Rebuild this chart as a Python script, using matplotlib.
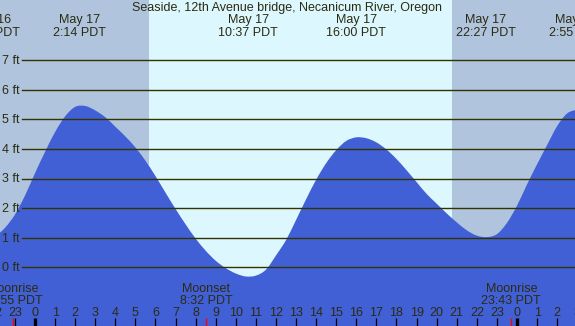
import numpy as np
import matplotlib
matplotlib.use("Agg")
import matplotlib.pyplot as plt
from matplotlib.path import Path
from matplotlib.patches import PathPatch

plt.rcParams["font.family"] = ["Liberation Sans", "DejaVu Sans"]

title = "Seaside, 12th Avenue bridge, Necanicum River, Oregon"

# tide height (ft) every half hour, hours relative to May 17 00:00
hours = np.arange(-2, 27.5, 0.5)
heights = [
    1.03, 1.33, 1.78, 2.42,
    3.18, 3.90, 4.57, 5.10, 5.42, 5.45, 5.30, 5.07, 4.75, 4.42,
    4.05, 3.60, 3.08, 2.52, 1.97, 1.45, 0.97, 0.56, 0.22, -0.03,
    -0.21, -0.31, -0.28, -0.08, 0.40, 0.92, 1.60, 2.30, 2.96, 3.52,
    3.96, 4.27, 4.39, 4.36, 4.22, 3.98, 3.66, 3.28, 2.88, 2.48,
    2.15, 1.82, 1.52, 1.25, 1.07, 1.02, 1.12, 1.50, 2.08, 2.80,
    3.48, 4.13, 4.77, 5.20, 5.33,
]

# high / low tide labels
tide_days = ["May 16", "May 17", "May 17", "May 17", "May 17", "May 18"]
tide_times = ["21:46", "2:14", "10:37", "16:00", "22:27", "2:55"]
tide_offsets = [-24, 0, 0, 0, 0, 24]

# moon events
moon_names = ["Moonrise", "Moonset", "Moonrise"]
moon_times = ["22:55", "8:32", "23:43"]
moon_offsets = [-24, 0, 0]

sunrise = "5:41"
sunset = "20:46"

ft_levels = [0, 1, 2, 3, 4, 5, 6, 7]
hour_ticks = list(range(-2, 28))


def to_hours(t, offset=0):
    hh, mm = t.split(":")
    return int(hh) + int(mm) / 60 + offset


def smooth_area(xs, ys, base):
    # catmull-rom through the points, drawn as bezier segments
    pts = np.column_stack([xs, ys])
    ext = np.vstack([pts[0], pts, pts[-1]])
    verts = [(xs[0], base), tuple(pts[0])]
    codes = [Path.MOVETO, Path.LINETO]
    for i in range(len(pts) - 1):
        p0, p1, p2, p3 = ext[i], ext[i + 1], ext[i + 2], ext[i + 3]
        verts += [tuple(p1 + (p2 - p0) / 6), tuple(p2 - (p3 - p1) / 6), tuple(p2)]
        codes += [Path.CURVE4] * 3
    verts += [(xs[-1], base), (xs[0], base)]
    codes += [Path.LINETO, Path.CLOSEPOLY]
    return Path(verts, codes)


night_col = "#b0c4de"
day_col = "#ddf7ff"
tide_col = "#4160d6"
line_col = "#333300"
text_col = "#2b2b10"

fig = plt.figure(figsize=(5.75, 3.26), dpi=100)
ax = fig.add_axes([0, 0, 1, 1])
ax.axis("off")

px_h = 20.083   # pixels per hour
px_ft = 29.6    # pixels per foot
x0, y0 = 35.0, 267.3
ax.set_xlim(-x0 / px_h, (575 - x0) / px_h)
ax.set_ylim(-(326 - y0) / px_ft, y0 / px_ft)
xmin, xmax = ax.get_xlim()
ymin, ymax = ax.get_ylim()

# day / night background
sr, ss = to_hours(sunrise), to_hours(sunset)
ax.axvspan(xmin, sr, color=night_col, lw=0, zorder=0)
ax.axvspan(sr, ss, color=day_col, lw=0, zorder=0)
ax.axvspan(ss, xmax, color=night_col, lw=0, zorder=0)

# tide
ax.add_patch(PathPatch(smooth_area(hours, heights, ymin - 1), facecolor=tide_col,
                       lw=0, zorder=1))

# height lines
yt = ax.get_yaxis_transform()
for ft in ft_levels:
    ax.axhline(ft, xmin=22 / 575, xmax=1, color=line_col, lw=1.0, zorder=2)
    ax.text(2 / 575, ft - 4 / px_ft, f"{ft} ft", transform=yt, fontsize=9,
            color=text_col, ha="left", va="baseline", zorder=3)

ax.text(0.5, 1 - 11 / 326, title, transform=ax.transAxes, fontsize=9,
        color=text_col, ha="center", va="baseline", zorder=3)

# tide extreme labels
xt = ax.get_xaxis_transform()
for d, t, off in zip(tide_days, tide_times, tide_offsets):
    h = to_hours(t, off)
    ax.text(h, 1 - 23.5 / 326, d, transform=xt, fontsize=9, color=text_col,
            ha="center", va="baseline", zorder=3)
    ax.text(h, 1 - 35.5 / 326, f"{t} PDT", transform=xt, fontsize=9,
            color=text_col, ha="center", va="baseline", zorder=3)

# moon labels + red ticks
for name, t, off in zip(moon_names, moon_times, moon_offsets):
    h = to_hours(t, off)
    ax.text(h, 34.5 / 326, name, transform=xt, fontsize=9, color=text_col,
            ha="center", va="baseline", zorder=3)
    ax.text(h, 22 / 326, f"{t} PDT", transform=xt, fontsize=9, color=text_col,
            ha="center", va="baseline", zorder=3)
    ax.vlines(h, 0, 8 / 326, transform=xt, color="red", lw=1.0, zorder=3)

# hour ticks
for h in hour_ticks:
    lw = 2.4 if h % 24 == 0 else 0.9
    ax.vlines(h, 0, 8 / 326, transform=xt, color="black", lw=lw, zorder=3)
    ax.text(h, 10 / 326, str(h % 24), transform=xt, fontsize=9, color=text_col,
            ha="center", va="baseline", zorder=3)

fig.savefig("out.png", dpi=100)
